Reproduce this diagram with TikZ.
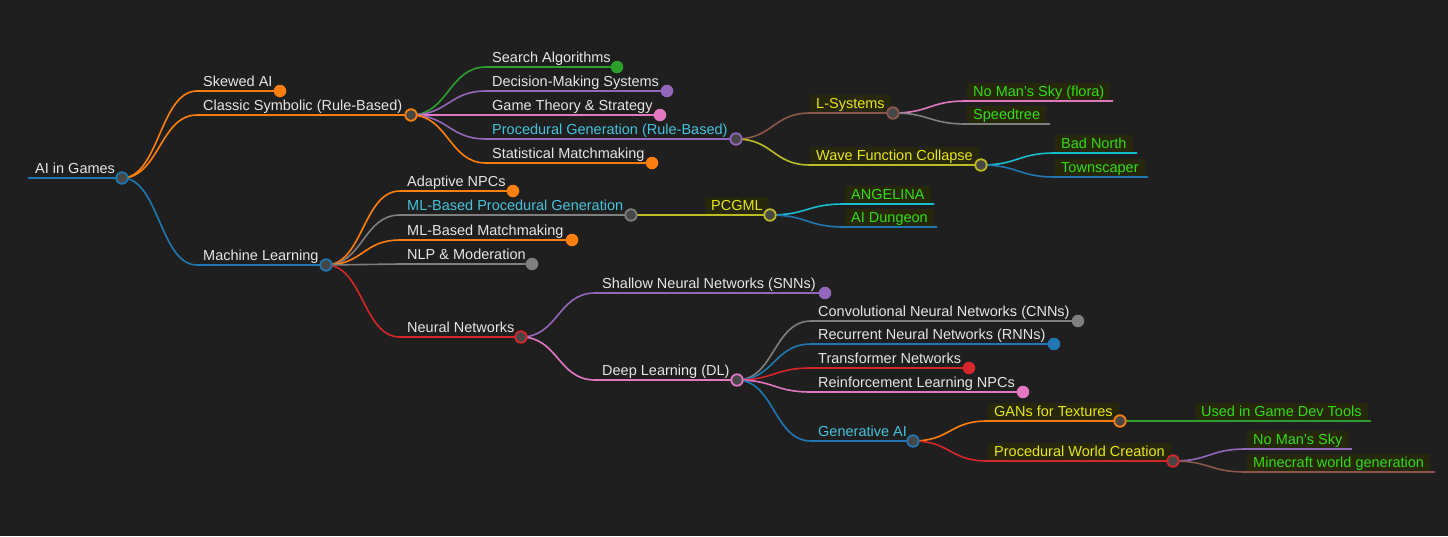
\documentclass[tikz,border=0pt]{standalone}
\usepackage{fontspec}
\setmainfont{Liberation Sans}
\definecolor{bg}{HTML}{1F1F1F}
\definecolor{corange}{HTML}{FF7F0E}
\definecolor{cblue}{HTML}{1F77B4}
\definecolor{cgreen}{HTML}{2CA02C}
\definecolor{cpurple}{HTML}{9467BD}
\definecolor{cpink}{HTML}{E377C2}
\definecolor{cred}{HTML}{D62728}
\definecolor{cgray}{HTML}{7F7F7F}
\definecolor{cbrown}{HTML}{8C564B}
\definecolor{colive}{HTML}{BCBD22}
\definecolor{ccyan}{HTML}{17BECF}
\definecolor{txt}{HTML}{E6E6E6}
\definecolor{tcyan}{HTML}{45C3DE}
\definecolor{tyellow}{HTML}{E8E812}
\definecolor{tgreen}{HTML}{33DD11}
\definecolor{hlbg}{HTML}{27270C}
\definecolor{hubfill}{HTML}{474747}
\tikzset{
  edge/.style={line width=1.6pt},
  hub/.style={circle, draw, line width=1.8pt, fill=hubfill, minimum size=11.5pt, inner sep=0pt},
  leaf/.style={circle, fill, minimum size=12.5pt, inner sep=0pt},
  lbl/.style={anchor=base west, inner sep=0pt, text=txt, font=\fontsize{14.5}{16}\selectfont},
  hl/.style={lbl, fill=hlbg, inner xsep=6pt, inner ysep=2pt, xshift=-6pt, text height=11pt, text depth=2pt},
  curve/.style={to path={.. controls +(37,0) and +(-37,0) .. (\tikztotarget)}},
}
\begin{document}
\begin{tikzpicture}[x=1pt,y=-1pt]
\fill[bg] (0,0) rectangle (1448,536);
\useasboundingbox (0,0) rectangle (1448,536);
% ---------- positions
\coordinate (r0) at (28,178);   \coordinate (p-root) at (122,178);
\coordinate (s-skew) at (197,91);  \coordinate (p-skew) at (280,91);
\coordinate (s-cls) at (197,115);  \coordinate (p-cls) at (411,115);
\coordinate (s-ml) at (197,265);   \coordinate (p-ml) at (326,265);
\coordinate (s-search) at (486,67);  \coordinate (p-search) at (617,67);
\coordinate (s-dec) at (486,91);     \coordinate (p-dec) at (667,91);
\coordinate (s-game) at (486,115);   \coordinate (p-game) at (660,115);
\coordinate (s-pg) at (486,139);     \coordinate (p-pg) at (736,139);
\coordinate (s-stat) at (486,163);   \coordinate (p-stat) at (652,163);
\coordinate (s-lsys) at (810,113);   \coordinate (p-lsys) at (893,113);
\coordinate (s-wfc) at (810,165);    \coordinate (p-wfc) at (981,165);
\coordinate (s-flora) at (966,101);  \coordinate (p-flora) at (1113,101);
\coordinate (s-speed) at (966,124);  \coordinate (p-speed) at (1050,124);
\coordinate (s-bad) at (1055,153);   \coordinate (p-bad) at (1137,153);
\coordinate (s-town) at (1055,177);  \coordinate (p-town) at (1148,177);
\coordinate (s-adapt) at (400,191);  \coordinate (p-adapt) at (513,191);
\coordinate (s-mlpg) at (400,215);   \coordinate (p-mlpg) at (631,215);
\coordinate (s-mlmm) at (400,240);   \coordinate (p-mlmm) at (572,240);
\coordinate (s-nlp) at (400,264);    \coordinate (p-nlp) at (532,264);
\coordinate (s-nn) at (400,337);     \coordinate (p-nn) at (521,337);
\coordinate (s-pcgml) at (705,215);  \coordinate (p-pcgml) at (770,215);
\coordinate (s-ang) at (844,204);    \coordinate (p-ang) at (934,204);
\coordinate (s-aid) at (844,227);    \coordinate (p-aid) at (937,227);
\coordinate (s-snn) at (595,293);    \coordinate (p-snn) at (825,293);
\coordinate (s-dl) at (595,380);     \coordinate (p-dl) at (737,380);
\coordinate (s-cnn) at (811,321);    \coordinate (p-cnn) at (1078,321);
\coordinate (s-rnn) at (811,344);    \coordinate (p-rnn) at (1054,344);
\coordinate (s-tr) at (811,368);     \coordinate (p-tr) at (969,368);
\coordinate (s-rl) at (811,392);     \coordinate (p-rl) at (1023,392);
\coordinate (s-gen) at (811,441);    \coordinate (p-gen) at (913,441);
\coordinate (s-gans) at (987,421);   \coordinate (p-gans) at (1120,421);
\coordinate (s-pwc) at (987,461);    \coordinate (p-pwc) at (1173,461);
\coordinate (s-used) at (1194,421);  \coordinate (p-used) at (1371,421);
\coordinate (s-nms) at (1246,449);   \coordinate (p-nms) at (1352,449);
\coordinate (s-mine) at (1246,472);  \coordinate (p-mine) at (1435,472);
% ---------- labels (drawn first, lines on top)
\node[lbl] (t-root) at (35,173) {AI in Games};
\node[lbl] (t-skew) at (203,86) {Skewed AI};
\node[lbl] (t-cls) at (203,110) {Classic Symbolic (Rule-Based)};
\node[lbl] (t-ml) at (203,260) {Machine Learning};
\node[lbl] (t-search) at (492,62) {Search Algorithms};
\node[lbl] (t-dec) at (492,86) {Decision-Making Systems};
\node[lbl] (t-game) at (492,110) {Game Theory \& Strategy};
\node[lbl,text=tcyan] (t-pg) at (492,134) {Procedural Generation (Rule-Based)};
\node[lbl] (t-stat) at (492,158) {Statistical Matchmaking};
\node[hl,text=tyellow] (t-lsys) at (816,108) {L-Systems};
\node[hl,text=tyellow] (t-wfc) at (816,160) {Wave Function Collapse};
\node[hl,text=tgreen] (t-flora) at (973,96) {No Man's Sky (flora)};
\node[hl,text=tgreen] (t-speed) at (973,119) {Speedtree};
\node[hl,text=tgreen] (t-bad) at (1061,148) {Bad North};
\node[hl,text=tgreen] (t-town) at (1061,172) {Townscaper};
\node[lbl] (t-adapt) at (407,186) {Adaptive NPCs};
\node[lbl,text=tcyan] (t-mlpg) at (407,210) {ML-Based Procedural Generation};
\node[lbl] (t-mlmm) at (407,235) {ML-Based Matchmaking};
\node[lbl] (t-nlp) at (407,259) {NLP \& Moderation};
\node[lbl] (t-nn) at (407,332) {Neural Networks};
\node[hl,text=tyellow] (t-pcgml) at (711,210) {PCGML};
\node[hl,text=tgreen] (t-ang) at (851,199) {ANGELINA};
\node[hl,text=tgreen] (t-aid) at (851,222) {AI Dungeon};
\node[lbl] (t-snn) at (602,288) {Shallow Neural Networks (SNNs)};
\node[lbl] (t-dl) at (602,375) {Deep Learning (DL)};
\node[lbl] (t-cnn) at (818,316) {Convolutional Neural Networks (CNNs)};
\node[lbl] (t-rnn) at (818,339) {Recurrent Neural Networks (RNNs)};
\node[lbl] (t-tr) at (818,363) {Transformer Networks};
\node[lbl] (t-rl) at (818,387) {Reinforcement Learning NPCs};
\node[lbl,text=tcyan] (t-gen) at (818,436) {Generative AI};
\node[hl,text=tyellow] (t-gans) at (994,416) {GANs for Textures};
\node[hl,text=tyellow] (t-pwc) at (994,456) {Procedural World Creation};
\node[hl,text=tgreen] (t-used) at (1201,416) {Used in Game Dev Tools};
\node[hl,text=tgreen] (t-nms) at (1253,444) {No Man's Sky};
\node[hl,text=tgreen] (t-mine) at (1253,467) {Minecraft world generation};
% ---------- connectors
\draw[edge,cblue] (r0) -- (p-root);
\draw[edge,corange] (p-root) to[curve] (s-skew) -- (p-skew);
\draw[edge,corange] (p-root) to[curve] (s-cls) -- (p-cls);
\draw[edge,cblue] (p-root) to[curve] (s-ml) -- (p-ml);
\draw[edge,cgreen] (p-cls) to[curve] (s-search) -- (p-search);
\draw[edge,cpurple] (p-cls) to[curve] (s-dec) -- (p-dec);
\draw[edge,cpink] (p-cls) to[curve] (s-game) -- (p-game);
\draw[edge,cpurple] (p-cls) to[curve] (s-pg) -- (p-pg);
\draw[edge,corange] (p-cls) to[curve] (s-stat) -- (p-stat);
\draw[edge,cbrown] (p-pg) to[curve] (s-lsys) -- (p-lsys);
\draw[edge,colive] (p-pg) to[curve] (s-wfc) -- (p-wfc);
\draw[edge,cpink] (p-lsys) to[curve] (s-flora) -- (p-flora);
\draw[edge,cgray] (p-lsys) to[curve] (s-speed) -- (p-speed);
\draw[edge,ccyan] (p-wfc) to[curve] (s-bad) -- (p-bad);
\draw[edge,cblue] (p-wfc) to[curve] (s-town) -- (p-town);
\draw[edge,corange] (p-ml) to[curve] (s-adapt) -- (p-adapt);
\draw[edge,cgray] (p-ml) to[curve] (s-mlpg) -- (p-mlpg);
\draw[edge,corange] (p-ml) to[curve] (s-mlmm) -- (p-mlmm);
\draw[edge,cgray] (p-ml) to[curve] (s-nlp) -- (p-nlp);
\draw[edge,cred] (p-ml) to[curve] (s-nn) -- (p-nn);
\draw[edge,colive] (p-mlpg) to[curve] (s-pcgml) -- (p-pcgml);
\draw[edge,ccyan] (p-pcgml) to[curve] (s-ang) -- (p-ang);
\draw[edge,cblue] (p-pcgml) to[curve] (s-aid) -- (p-aid);
\draw[edge,cpurple] (p-nn) to[curve] (s-snn) -- (p-snn);
\draw[edge,cpink] (p-nn) to[curve] (s-dl) -- (p-dl);
\draw[edge,cgray] (p-dl) to[curve] (s-cnn) -- (p-cnn);
\draw[edge,cblue] (p-dl) to[curve] (s-rnn) -- (p-rnn);
\draw[edge,cred] (p-dl) to[curve] (s-tr) -- (p-tr);
\draw[edge,cpink] (p-dl) to[curve] (s-rl) -- (p-rl);
\draw[edge,cblue] (p-dl) to[curve] (s-gen) -- (p-gen);
\draw[edge,corange] (p-gen) to[curve] (s-gans) -- (p-gans);
\draw[edge,cred] (p-gen) to[curve] (s-pwc) -- (p-pwc);
\draw[edge,cgreen] (p-gans) to[curve] (s-used) -- (p-used);
\draw[edge,cpurple] (p-pwc) to[curve] (s-nms) -- (p-nms);
\draw[edge,cbrown] (p-pwc) to[curve] (s-mine) -- (p-mine);
% ---------- hubs
\node[hub,draw=cblue] (h-root) at (p-root) {};
\node[hub,draw=corange] (h-cls) at (p-cls) {};
\node[hub,draw=cblue] (h-ml) at (p-ml) {};
\node[hub,draw=cpurple] (h-pg) at (p-pg) {};
\node[hub,draw=cbrown] (h-lsys) at (p-lsys) {};
\node[hub,draw=colive] (h-wfc) at (p-wfc) {};
\node[hub,draw=cgray] (h-mlpg) at (p-mlpg) {};
\node[hub,draw=colive] (h-pcgml) at (p-pcgml) {};
\node[hub,draw=cred] (h-nn) at (p-nn) {};
\node[hub,draw=cpink] (h-dl) at (p-dl) {};
\node[hub,draw=cblue] (h-gen) at (p-gen) {};
\node[hub,draw=corange] (h-gans) at (p-gans) {};
\node[hub,draw=cred] (h-pwc) at (p-pwc) {};
% ---------- leaf dots
\node[leaf,fill=corange] (d-skew) at (p-skew) {};
\node[leaf,fill=cgreen] (d-search) at (p-search) {};
\node[leaf,fill=cpurple] (d-dec) at (p-dec) {};
\node[leaf,fill=cpink] (d-game) at (p-game) {};
\node[leaf,fill=corange] (d-stat) at (p-stat) {};
\node[leaf,fill=corange] (d-adapt) at (p-adapt) {};
\node[leaf,fill=corange] (d-mlmm) at (p-mlmm) {};
\node[leaf,fill=cgray] (d-nlp) at (p-nlp) {};
\node[leaf,fill=cpurple] (d-snn) at (p-snn) {};
\node[leaf,fill=cgray] (d-cnn) at (p-cnn) {};
\node[leaf,fill=cblue] (d-rnn) at (p-rnn) {};
\node[leaf,fill=cred] (d-tr) at (p-tr) {};
\node[leaf,fill=cpink] (d-rl) at (p-rl) {};
\end{tikzpicture}
\end{document}
